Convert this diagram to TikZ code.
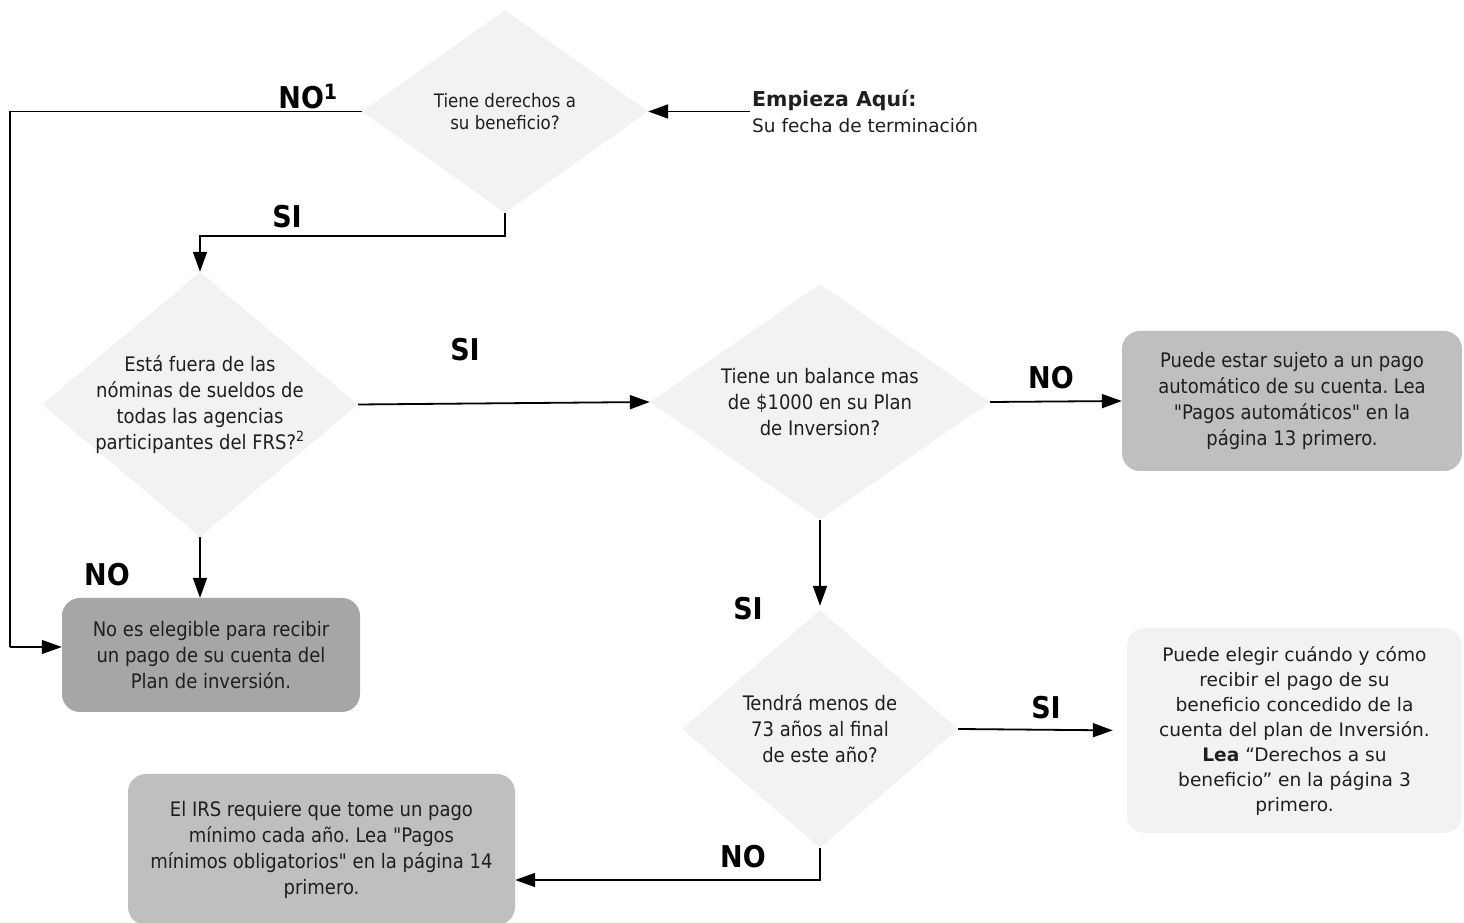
\documentclass[tikz,border=0pt]{standalone}
\usepackage{fontspec}
\setmainfont{DejaVu Sans}
\newfontfamily\condfont{DejaVu Sans Condensed}
\usetikzlibrary{shapes.geometric,arrows.meta}
\definecolor{paleGray}{HTML}{F2F2F2}
\definecolor{midGray}{HTML}{BFBFBF}
\definecolor{darkGray}{HTML}{A6A6A6}
\definecolor{inkGray}{HTML}{1F1F1F}
\frenchspacing
\begin{document}
\begin{tikzpicture}[x=1pt,y=1pt,
  decision/.style={diamond, fill=paleGray, inner sep=0pt, align=center, text=inkGray,
    font=\condfont\fontsize{20}{26}\selectfont},
  outcome/.style={rectangle, rounded corners=18pt, inner sep=0pt, align=center, text=inkGray,
    font=\condfont\fontsize{20}{26}\selectfont},
  answer/.style={font=\condfont\bfseries\fontsize{30}{30}\selectfont, text=black},
  arr/.style={line width=1.8pt, -{Triangle[length=20pt,width=14pt]}},
  wire/.style={line width=1.2pt}]
\useasboundingbox (0,0) rectangle (1464,923);

\node[decision, minimum width=286pt, minimum height=203pt, aspect=1.4,
  font=\condfont\fontsize{18.5}{22}\selectfont] (eligible) at (505,811.5)
  {Tiene derechos a\\su beneficio?};
\node[decision, minimum width=316pt, minimum height=265pt, aspect=1.19, inner sep=-10pt] (offpay) at (200,518.5)
  {Está fuera de las\\nóminas de sueldos de\\todas las agencias\\participantes del FRS?\textsuperscript{2}};
\node[decision, minimum width=340pt, minimum height=236pt, aspect=1.44] (balance) at (820,521)
  {Tiene un balance mas\\de \$1000 en su Plan\\de Inversion?};
\node[decision, minimum width=276pt, minimum height=238pt, aspect=1.16] (age) at (820,194)
  {Tendrá menos de\\73 años al final\\de este año?};

\node[outcome, fill=darkGray, minimum width=298pt, minimum height=114pt] (noteligible) at (211,268)
  {No es elegible para recibir\\un pago de su cuenta del\\Plan de inversión.};
\node[outcome, fill=midGray, minimum width=340pt, minimum height=140pt] (autopay) at (1292,522)
  {Puede estar sujeto a un pago\\automático de su cuenta. Lea\\"Pagos automáticos" en la\\página 13 primero.};
\node[outcome, fill=paleGray, minimum width=335pt, minimum height=205pt,
  font=\fontsize{18.6}{25}\selectfont] (choose) at (1294.5,192.5)
  {Puede elegir cuándo y cómo\\recibir el pago de su\\beneficio concedido de la\\cuenta del plan de Inversión.\\\textbf{Lea} “Derechos a su\\beneficio” en la página 3\\primero.};
\node[outcome, fill=midGray, minimum width=387pt, minimum height=151pt] (minpay) at (321.5,73.5)
  {El IRS requiere que tome un pago\\mínimo cada año. Lea "Pagos\\mínimos obligatorios" en la página 14\\primero.};

\node[anchor=north west, align=left, inner sep=0pt, text=inkGray,
  font=\fontsize{18.5}{26}\selectfont] (startlbl) at (752,833)
  {{\fontsize{20.5}{26}\selectfont\bfseries Empieza Aquí:}\\Su fecha de terminación};
\coordinate (entry) at (750,811.5);
\coordinate (loop) at (10,276);
\coordinate (yesturn) at (505,687);
\coordinate (noturn) at (820,43);

\draw[arr] (entry) -- (eligible.east);
\draw[wire] (eligible.west) -| (loop);
\draw[wire, -{Triangle[length=20pt,width=14pt]}] (loop) -- (loop -| noteligible.west);
\draw[arr] (eligible.south) -- (yesturn) -| (offpay.north);
\draw[arr] (offpay.east) -- (balance.west);
\draw[arr] (offpay.south) -- (offpay.south |- noteligible.north);
\draw[arr] (balance.east) -- (autopay.west);
\draw[arr, shorten >=4pt] (balance.south) -- (age.north);
\draw[arr, shorten >=14pt] (age.east) -- (choose.west);
\draw[arr] (age.south) -- (noturn) -- (noturn -| minpay.east);

\node[answer] (no1) at (308,826) {NO\textsuperscript{1}};
\node[answer] (si1) at (287,706) {SI};
\node[answer] (si2) at (465,573) {SI};
\node[answer] (no2) at (107,348) {NO};
\node[answer] (no3) at (1051,545) {NO};
\node[answer] (si3) at (748,314) {SI};
\node[answer] (si4) at (1046,215) {SI};
\node[answer] (no4) at (743,66) {NO};
\end{tikzpicture}
\end{document}
